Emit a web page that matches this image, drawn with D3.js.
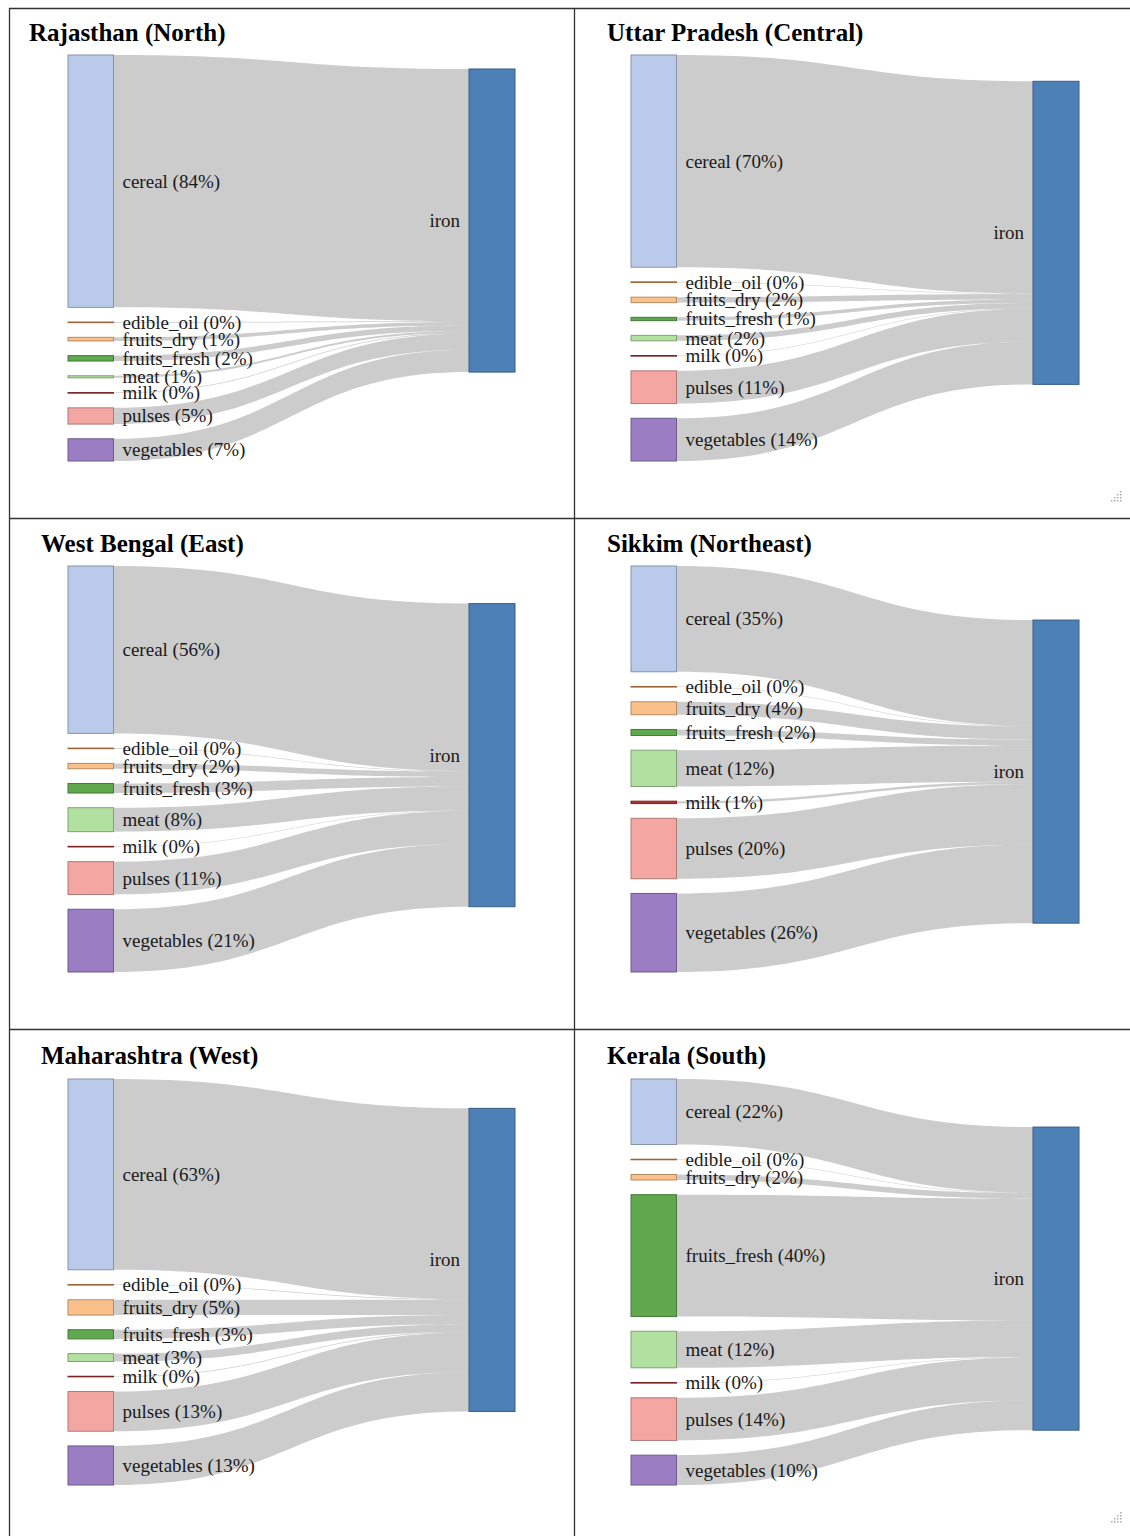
<!DOCTYPE html>
<html><head><meta charset="utf-8">
<script src="https://cdn.jsdelivr.net/npm/d3@7"></script>
<style>body{margin:0;background:#fff} svg{display:block}</style>
</head><body>
<script>
// ---- data ----
const categories = ["cereal","edible_oil","fruits_dry","fruits_fresh","meat","milk","pulses","vegetables"];
const targetLabel = "iron";
const regions = ["Rajasthan (North)","Uttar Pradesh (Central)","West Bengal (East)","Sikkim (Northeast)","Maharashtra (West)","Kerala (South)"];
const rajasthan    = [84, 0.2, 1.2, 1.8, 0.7, 0.2, 5.4, 7.4];
const uttarPradesh = [70, 0.2, 1.8, 1.1, 1.8, 0.2, 10.8, 14.1];
const westBengal   = [56, 0.2, 1.8, 3.2, 8, 0.2, 11, 21];
const sikkim       = [35, 0.2, 4.3, 2, 12, 0.8, 20, 26];
const maharashtra  = [62.5, 0.2, 5, 3, 2.6, 0.2, 13, 12.8];
const kerala       = [21.5, 0.2, 1.8, 40, 12, 0.2, 14, 9.8];
const regionValues = [rajasthan, uttarPradesh, westBengal, sikkim, maharashtra, kerala];

// ---- styles ----
const categoryColors = ["#b9caea","#d98a50","#f9c089","#5fa84e","#b2e0a0","#a83232","#f4a7a2","#9a7dc2"];
const targetColor = "#4d80b6";
const W = 1130, H = 1536;

const svg = d3.select("body").append("svg").attr("width", W).attr("height", H);

// layout per grid cell
const colSrcX = [68, 631], colTgtX = [469, 1033], nodeW = 45.5;
const rowTop = [55, 566, 1079], chartH = 406;
const titleX = [29, 607, 41, 607, 41, 607];
const titleY = [41, 552, 1064];
const pad = 14.7;

function linkPath(x0, sy0, sy1, x1, ty0, ty1) {
  const xi = d3.interpolateNumber(x0, x1);
  const c0 = xi(0.5), c1 = xi(0.5);
  const p = d3.path();
  p.moveTo(x0, sy0);
  p.bezierCurveTo(c0, sy0, c1, ty0, x1, ty0);
  p.lineTo(x1, ty1);
  p.bezierCurveTo(c1, ty1, c0, sy1, x0, sy1);
  p.closePath();
  return p.toString();
}

regionValues.forEach((vals, i) => {
  const col = i % 2, row = Math.floor(i / 2);
  const g = svg.append("g");
  const total = d3.sum(vals);
  const top = rowTop[row];
  const ky = (chartH - (vals.length - 1) * pad) / total;
  const hScale = d3.scaleLinear().domain([0, total]).range([0, ky * total]);

  // source nodes
  let y = top;
  const nodes = vals.map((v, j) => {
    const h = hScale(v);
    const n = {name: categories[j], value: v, y0: y, y1: y + h, color: categoryColors[j]};
    y += h + pad;
    return n;
  });
  // target node placed at weighted centre of sources
  const tH = hScale(total);
  const centre = d3.sum(nodes, n => n.value * (n.y0 + n.y1) / 2) / total;
  let ty0 = Math.max(top, Math.min(top + chartH - tH, centre - tH / 2));
  const tgt = {y0: ty0, y1: ty0 + tH};

  const sx1 = colSrcX[col] + nodeW, tx0 = colTgtX[col];
  // links
  let ty = tgt.y0;
  nodes.forEach(n => {
    const h = n.y1 - n.y0;
    g.append("path")
      .attr("d", linkPath(sx1, n.y0, n.y1, tx0, ty, ty + h))
      .attr("fill", "rgba(0,0,0,0.2)");
    ty += h;
  });
  // source node rects
  nodes.forEach(n => {
    g.append("rect")
      .attr("x", colSrcX[col]).attr("y", n.y0)
      .attr("width", nodeW).attr("height", Math.max(0.6, n.y1 - n.y0))
      .attr("fill", n.color)
      .attr("stroke", d3.color(n.color).darker(0.9).formatHex()).attr("stroke-width", 1);
    g.append("text")
      .attr("x", sx1 + 9).attr("y", (n.y0 + n.y1) / 2)
      .attr("dominant-baseline", "central")
      .attr("font-family", "Liberation Serif, Times New Roman, serif")
      .attr("font-size", 19).attr("fill", "#1a1a1a")
      .text(`${n.name} (${Math.round(n.value)}%)`);
  });
  // target node
  g.append("rect")
    .attr("x", tx0).attr("y", tgt.y0)
    .attr("width", nodeW + 0.5).attr("height", tH)
    .attr("fill", targetColor)
    .attr("stroke", d3.color(targetColor).darker(0.9).formatHex()).attr("stroke-width", 1);
  g.append("text")
    .attr("x", tx0 - 9).attr("y", (tgt.y0 + tgt.y1) / 2)
    .attr("text-anchor", "end").attr("dominant-baseline", "central")
    .attr("font-family", "Liberation Serif, Times New Roman, serif")
    .attr("font-size", 19).attr("fill", "#1a1a1a")
    .text(targetLabel);
  // title
  g.append("text")
    .attr("x", titleX[i]).attr("y", titleY[row])
    .attr("font-family", "Liberation Serif, Times New Roman, serif")
    .attr("font-weight", "bold").attr("font-size", 25).attr("fill", "#000")
    .text(regions[i]);
});

// table borders
const grid = svg.append("g").attr("stroke", "#333").attr("stroke-width", 1.3);
[8.5, 518.5, 1029.5].forEach(yy => grid.append("line").attr("x1", 9).attr("x2", W).attr("y1", yy).attr("y2", yy));
[9.5, 574.5].forEach(xx => grid.append("line").attr("x1", xx).attr("x2", xx).attr("y1", 8).attr("y2", H));

// resize-grip dots
[[1120, 500], [1120, 1521]].forEach(([gx, gy]) => {
  for (let r = 0; r < 4; r++) for (let c = 0; c <= r; c++) {
    svg.append("rect").attr("x", gx - c * 3).attr("y", gy - (3 - r) * 3)
      .attr("width", 1.5).attr("height", 1.5).attr("fill", "#aaa");
  }
});
</script>
</body></html>
